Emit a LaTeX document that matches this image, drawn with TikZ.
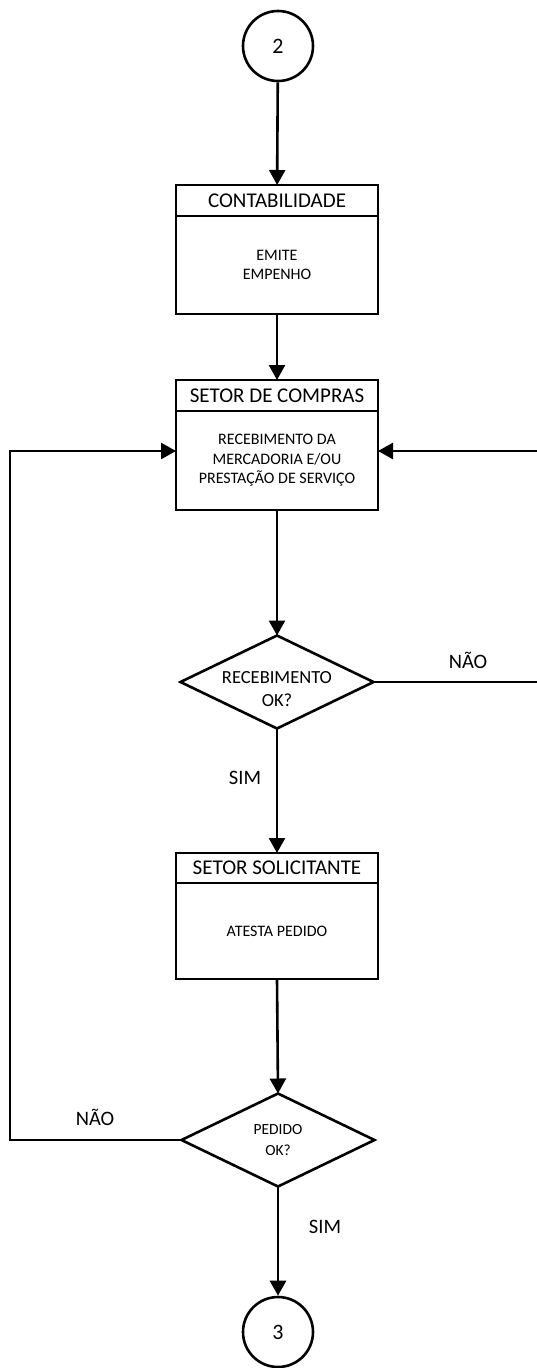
\documentclass[tikz,border=0pt]{standalone}
\usepackage{fontspec}
\setmainfont{Carlito}
\usetikzlibrary{shapes.geometric,arrows.meta}
\begin{document}
\begin{tikzpicture}[x=1pt,y=-1pt,
  line width=2.6pt,
  conn/.style={-{Triangle[length=15pt,width=16pt]}},
  hdr/.style={draw,line width=2.8pt,outer sep=0pt,minimum width=202pt,inner sep=0pt,anchor=north,font=\fontsize{21}{24}\selectfont},
  body/.style={draw,line width=2.8pt,outer sep=0pt,minimum width=202pt,inner sep=0pt,anchor=north,align=center,font=\fontsize{16}{19.5}\selectfont},
  conn2/.style={draw,circle,minimum size=70pt,inner sep=0pt,font=\fontsize{22}{24}\selectfont},
  dec/.style={draw,diamond,aspect=2,outer sep=0pt,minimum width=193pt,minimum height=93pt,inner sep=0pt},
  dtxt/.style={inner sep=0pt,align=center},
  lbl/.style={font=\fontsize{20.5}{23}\selectfont,inner sep=0pt}
]
\useasboundingbox (0,0) rectangle (537,1368);
\node[conn2] (c2) at (278,46) {2};
% box 1
\node[hdr,minimum height=31pt] (h1) at (277,185) {CONTABILIDADE};
\node[body,minimum height=98pt] (b1) at (h1.south) {EMITE\\EMPENHO};
% box 2
\node[hdr,minimum height=31pt] (h2) at (277,380) {SETOR DE COMPRAS};
\node[body,minimum height=99pt] (b2) at (h2.south) {RECEBIMENTO DA\\MERCADORIA E/OU\\PRESTAÇÃO DE SERVIÇO};
% decision 1
\node[dec] (d1) at (277,682) {};
\node[dtxt,font=\fontsize{18.5}{23.5}\selectfont] (t1) at (277,689) {RECEBIMENTO\\OK?};
% box 3
\node[hdr,minimum height=30pt] (h3) at (277,853) {SETOR SOLICITANTE};
\node[body,minimum height=96pt] (b3) at (h3.south) {ATESTA PEDIDO};
% decision 2
\node[dec] (d2) at (278,1140) {};
\node[dtxt,font=\fontsize{15.5}{21}\selectfont] (t2) at (278,1140) {PEDIDO\\OK?};
\node[conn2] (c3) at (278,1332) {3};
% labels
\node[lbl] (n1) at (468,660) {NÃO};
\node[lbl] (s1) at (245,778) {SIM};
\node[lbl] (n2) at (95,1117) {NÃO};
\node[lbl] (s2) at (325,1227) {SIM};
% coordinates
\coordinate (rt) at (541,451);
\coordinate (lt) at (10,451);
% connectors
\draw[conn] (c2) -- (h1);
\draw[conn] (b1.south) -- (h2.north);
\draw[conn] (b2.south) -- (d1.north);
\draw[conn] (d1.south) -- (h3.north);
\draw[conn] (b3.south) -- (d2.north);
\draw[conn] (d2.south) -- (c3);
\draw[conn] (d1.east) -- (d1.east -| rt) -- (rt) -- (rt -| b2.east);
\draw[conn] (d2.west) -- (d2.west -| lt) -- (lt) -- (lt -| b2.west);
\end{tikzpicture}
\end{document}
